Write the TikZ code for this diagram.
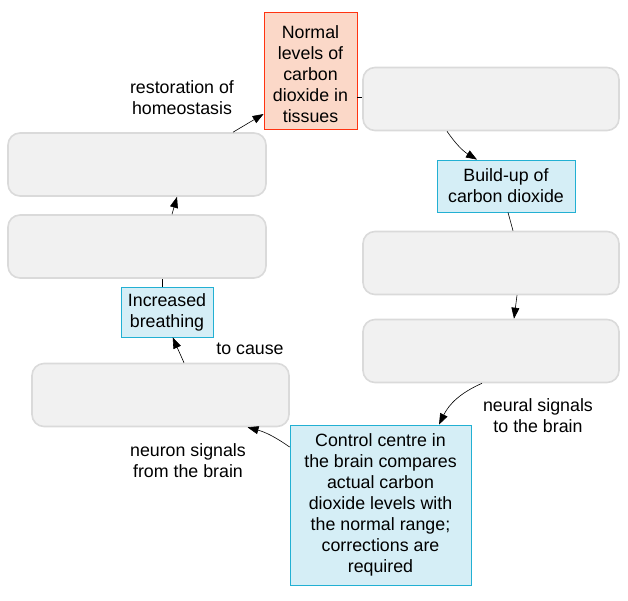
\documentclass[tikz,border=0pt]{standalone}
\usepackage{fontspec}
\setmainfont{Liberation Sans}
\usetikzlibrary{arrows.meta}

\definecolor{normalfill}{HTML}{FBD8C8}
\definecolor{normaledge}{HTML}{FF3311}
\definecolor{stagefill}{HTML}{D5EEF6}
\definecolor{stageedge}{HTML}{22B0D3}
\definecolor{blankfill}{HTML}{F1F1F1}
\definecolor{blankedge}{HTML}{DADADA}

\tikzset{
    every node/.style={font=\fontsize{17.8pt}{21pt}\selectfont, align=center, inner sep=0pt},
    blankbox/.style={rounded corners=12pt, fill=blankfill, draw=blankedge, line width=1.6pt,
        minimum width=256pt, minimum height=63pt},
    stagebox/.style={fill=stagefill, draw=stageedge, line width=0.8pt},
    normalbox/.style={fill=normalfill, draw=normaledge, line width=0.8pt},
    link/.style={draw=black, line width=0.6pt},
    tip/.style={link, -{Triangle[length=11pt,width=8pt]}},
}

\begin{document}
\begin{tikzpicture}[x=1pt, y=-1pt]
    \useasboundingbox (0,0) rectangle (628,600);

    % right hand side of the loop
    \node[normalbox, minimum width=93pt, minimum height=117pt] (normal) at (310.5,70.5)
        {\rule{0pt}{21pt}Normal\\levels of\\carbon\\dioxide in\\tissues};
    \node[blankbox] (blankA) at (491,99) {};
    \node[stagebox, minimum width=138pt, minimum height=52pt] (buildup) at (506,186)
        {Build-up of\\carbon dioxide};
    \node[blankbox] (blankB) at (491,263) {};
    \node[blankbox] (blankC) at (491,351) {};
    \node[stagebox, minimum width=181pt, minimum height=160pt] (control) at (380.5,505)
        {Control centre in\\the brain compares\\actual carbon\\dioxide levels with\\the normal range;\\corrections are\\required};

    % left hand side of the loop
    \node[blankbox, minimum width=257pt] (blankD) at (160.5,395) {};
    \node[stagebox, minimum width=92pt, minimum height=50pt] (breathing) at (167,312)
        {Increased\\breathing};
    \node[blankbox, minimum width=258pt] (blankE) at (137,246.5) {};
    \node[blankbox, minimum width=258pt] (blankF) at (137,164.5) {};

    \node (restore) at (182,98) {restoration of\\homeostasis};
    \node (tocause) at (250,349) {to cause};
    \node (neuron) at (188,461) {neuron signals\\from the brain};
    \node (neural) at (538,416) {neural signals\\to the brain};

    \draw[link] ([yshift=-27pt]normal.east) -- ([yshift=1.5pt]blankA.west);
    \draw[tip] ([xshift=-44pt]blankA.south) to[bend right=12] ([xshift=-29pt]buildup.north);
    \draw[link] ([xshift=2pt]buildup.south) -- ([xshift=22pt]blankB.north);
    \draw[tip] ([xshift=26pt]blankB.south) -- ([xshift=23pt]blankC.north);
    \draw[tip] ([xshift=-9pt]blankC.south) to[bend right=20] ([xshift=58.5pt]control.north);
    \draw[tip] ([yshift=58pt]control.west) to[bend right=10] ([xshift=87pt]blankD.south);
    \draw[tip] ([xshift=23.5pt]blankD.north) -- ([xshift=5.7pt]breathing.south);
    \draw[link] ([xshift=-5pt]breathing.north) -- ([xshift=25pt]blankE.south);
    \draw[tip] ([xshift=35pt]blankE.north) -- ([xshift=40pt]blankF.south);
    \draw[tip] ([xshift=96pt]blankF.north) -- ([yshift=-43.5pt]normal.west);
\end{tikzpicture}
\end{document}
